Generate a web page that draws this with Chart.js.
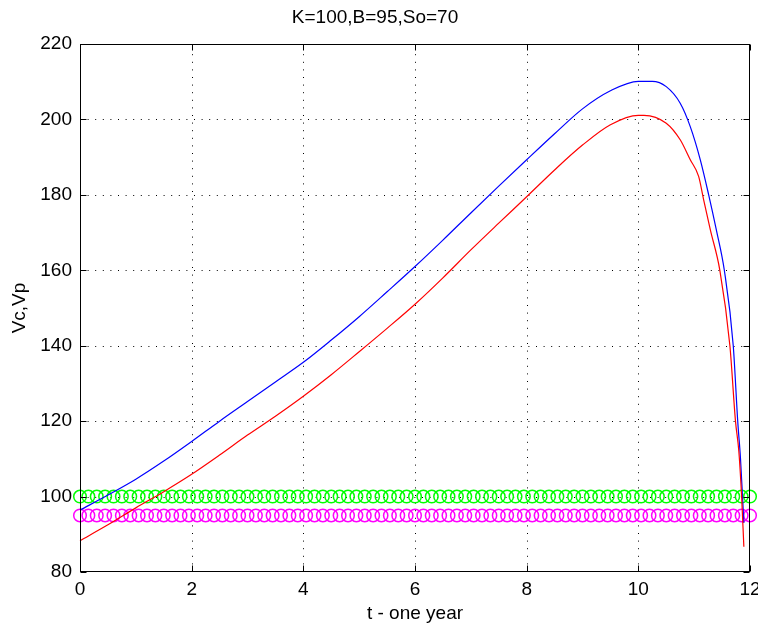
<!DOCTYPE html>
<html>
<head>
<meta charset="utf-8">
<script src="https://cdn.jsdelivr.net/npm/chart.js@4/dist/chart.umd.min.js"></script>
<style>
  body { margin: 0; background: #fff; }
  #wrap { width: 758px; height: 628px; }
</style>
</head>
<body>
<div id="wrap"><canvas id="chart" width="758" height="628"></canvas></div>
<script>
// ===== data =====
const titleText = 'K=100,B=95,So=70';
const xTitle = 't - one year';
const yTitle = 'Vc,Vp';

// Vc (blue)
const tVc = [0, 0.5, 1, 1.5, 2, 2.5, 3, 3.5, 4, 4.5, 5, 5.5, 6, 6.5, 7, 7.5, 8, 8.5, 9, 9.5,
  10, 10.25, 10.5, 10.75, 10.93, 11.11, 11.26, 11.4, 11.54, 11.7, 11.78, 11.83, 11.89];
const vc = [96.4, 100.4, 104.6, 109.4, 114.6, 120, 125.2, 130.4, 135.6, 141.5, 147.7, 154.3, 161, 168, 175.2, 182.3, 189.3, 196.2, 202.8, 207.6,
  210.1, 210.1, 208.7, 204.3, 198.1, 189.3, 180, 170.5, 160, 140, 120, 110, 93];

// Vp (red)
const tVp = [0, 0.5, 1, 1.5, 2, 2.5, 3, 3.5, 4, 4.5, 5, 5.5, 6, 6.5, 7, 7.5, 8, 8.5, 9, 9.5,
  10, 10.1, 10.5, 10.75, 10.93, 11.08, 11.17, 11.29, 11.46, 11.64, 11.74, 11.8, 11.85, 11.89];
const vp = [88.3, 92.5, 97, 101.3, 105.9, 111, 116.3, 121.3, 126.6, 132.3, 138.4, 144.6, 151, 158, 165.4, 172.5, 179.5, 186.6, 193.2, 198.6,
  201.1, 201.1, 199, 194.6, 189.3, 184.9, 178.7, 170.7, 160, 140, 120, 112, 100, 86.7];

// K and B levels, drawn as circle markers
const strikeK = 100;
const barrierB = 95;
const tMarks = [0, 0.15, 0.3, 0.45, 0.6, 0.75, 0.9, 1.05, 1.2, 1.35, 1.5, 1.65, 1.8, 1.95, 2.1, 2.25, 2.4, 2.55, 2.7, 2.85,
  3, 3.15, 3.3, 3.45, 3.6, 3.75, 3.9, 4.05, 4.2, 4.35, 4.5, 4.65, 4.8, 4.95, 5.1, 5.25, 5.4, 5.55, 5.7, 5.85,
  6, 6.15, 6.3, 6.45, 6.6, 6.75, 6.9, 7.05, 7.2, 7.35, 7.5, 7.65, 7.8, 7.95, 8.1, 8.25, 8.4, 8.55, 8.7, 8.85,
  9, 9.15, 9.3, 9.45, 9.6, 9.75, 9.9, 10.05, 10.2, 10.35, 10.5, 10.65, 10.8, 10.95, 11.1, 11.25, 11.4, 11.55, 11.7, 11.85, 12];

const xMin = 0, xMax = 12, xStep = 2;
const yMin = 80, yMax = 220, yStep = 20;

// ===== helpers =====
const pts = (xs, ys) => xs.map((x, i) => ({ x: x, y: ys[i] }));
const level = (xs, v) => xs.map(x => ({ x: x, y: v }));

const FONT = "'Liberation Sans', Arial, Helvetica, sans-serif";

// MATLAB style axes: dotted grid, box, inward ticks
const matlabAxes = {
  id: 'matlabAxes',
  beforeDatasetsDraw(chart) {
    const { ctx, chartArea: a, scales: { x, y } } = chart;
    ctx.save();
    ctx.strokeStyle = '#000';
    ctx.lineWidth = 1;
    ctx.setLineDash([1, 6.6]);
    x.ticks.forEach(t => {
      if (t.value <= xMin || t.value >= xMax) return;
      const px = Math.round(x.getPixelForValue(t.value)) + 0.5;
      ctx.beginPath(); ctx.moveTo(px, a.bottom); ctx.lineTo(px, a.top); ctx.stroke();
    });
    y.ticks.forEach(t => {
      if (t.value <= yMin || t.value >= yMax) return;
      const py = Math.round(y.getPixelForValue(t.value)) + 0.5;
      ctx.beginPath(); ctx.moveTo(a.left, py); ctx.lineTo(a.right, py); ctx.stroke();
    });
    ctx.restore();
  },
  afterDraw(chart) {
    const { ctx, chartArea: a, scales: { x, y } } = chart;
    const L = Math.round(a.left) + 0.5, R = Math.round(a.right) - 0.5;
    const T = Math.round(a.top) + 0.5, B = Math.round(a.bottom) - 0.5;
    const tl = 6;
    ctx.save();
    ctx.strokeStyle = '#000';
    ctx.lineWidth = 1;
    ctx.setLineDash([]);
    ctx.strokeRect(L, T, R - L, B - T);
    ctx.beginPath();
    x.ticks.forEach(t => {
      const px = Math.round(x.getPixelForValue(t.value)) + 0.5;
      ctx.moveTo(px, B); ctx.lineTo(px, B - tl);
      ctx.moveTo(px, T); ctx.lineTo(px, T + tl);
    });
    y.ticks.forEach(t => {
      const py = Math.round(y.getPixelForValue(t.value)) + 0.5;
      ctx.moveTo(L, py); ctx.lineTo(L + tl, py);
      ctx.moveTo(R, py); ctx.lineTo(R - tl, py);
    });
    ctx.stroke();
    ctx.restore();
  }
};

const ctx = document.getElementById('chart').getContext('2d');
const chart = new Chart(ctx, {
  type: 'line',
  data: {
    datasets: [
      {
        label: 'Vp',
        data: pts(tVp, vp),
        borderColor: '#ff0000',
        borderWidth: 1.2,
        pointRadius: 0,
        cubicInterpolationMode: 'monotone',
        fill: false,
        clip: false,
        order: 0
      },
      {
        label: 'Vc',
        data: pts(tVc, vc),
        borderColor: '#0000ff',
        borderWidth: 1.2,
        pointRadius: 0,
        cubicInterpolationMode: 'monotone',
        fill: false,
        clip: false,
        order: 1
      },
      {
        label: 'K',
        data: level(tMarks, strikeK),
        showLine: false,
        pointStyle: 'circle',
        pointRadius: 6.3,
        pointBorderWidth: 1.5,
        pointBorderColor: '#00ff00',
        pointBackgroundColor: 'rgba(0,0,0,0)',
        clip: false,
        order: 2
      },
      {
        label: 'B',
        data: level(tMarks, barrierB),
        showLine: false,
        pointStyle: 'circle',
        pointRadius: 6.3,
        pointBorderWidth: 1.5,
        pointBorderColor: '#ff00ff',
        pointBackgroundColor: 'rgba(0,0,0,0)',
        clip: false,
        order: 3
      }
    ]
  },
  options: {
    responsive: false,
    animation: false,
    layout: { padding: { left: 0, right: 8, top: 0, bottom: 0 } },
    plugins: {
      legend: { display: false },
      tooltip: { enabled: false },
      title: {
        display: true,
        text: titleText,
        color: '#000',
        font: { family: FONT, size: 19, weight: 'normal' },
        padding: { top: 6, bottom: 15.2 }
      }
    },
    scales: {
      x: {
        type: 'linear',
        min: xMin,
        max: xMax,
        grid: { display: false, drawTicks: false },
        border: { display: false },
        ticks: {
          stepSize: xStep,
          color: '#000',
          padding: 6,
          maxRotation: 0,
          font: { family: FONT, size: 19 }
        },
        title: {
          display: true,
          text: xTitle,
          color: '#000',
          font: { family: FONT, size: 19 },
          padding: { top: 0, bottom: 3 }
        },
        afterFit(scale) {
          scale.height = 56;
          scale.paddingLeft = 0;
          scale.paddingRight = 0;
        }
      },
      y: {
        type: 'linear',
        min: yMin,
        max: yMax,
        grid: { display: false, drawTicks: false },
        border: { display: false },
        ticks: {
          stepSize: yStep,
          color: '#000',
          padding: 8,
          font: { family: FONT, size: 19 }
        },
        title: {
          display: true,
          text: yTitle,
          color: '#000',
          font: { family: FONT, size: 19 },
          padding: { top: 8, bottom: 0 }
        },
        afterFit(scale) {
          scale.width = 80;
          scale.paddingTop = 0;
          scale.paddingBottom = 0;
        }
      }
    }
  },
  plugins: [matlabAxes]
});
</script>
</body>
</html>
